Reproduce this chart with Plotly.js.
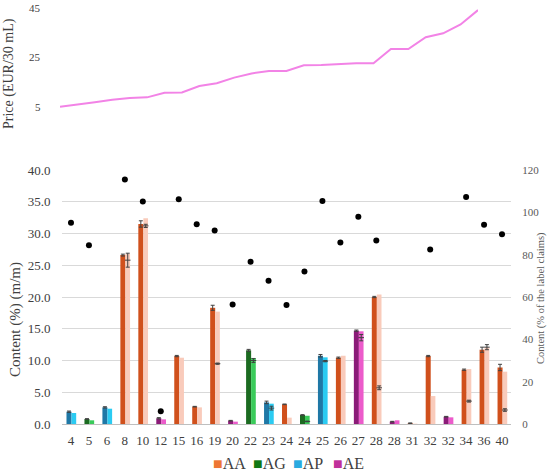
<!DOCTYPE html>
<html>
<head>
<meta charset="utf-8">
<script src="https://cdn.plot.ly/plotly-3.0.1.min.js"></script>
<style>html,body{margin:0;padding:0;background:#fff}#chart{width:550px;height:474px}</style>
</head>
<body>
<div id="chart"></div>
<script>
// ---- data ----
var labels = ['4','5','6','8','10','12','15','16','19','20','22','23','24','24','25','26','27','28','28','31','32','32','34','36','40'];
var types  = ['AP','AG','AP','AA','AA','AE','AA','AA','AA','AE','AG','AP','AA','AG','AP','AA','AE','AA','AE','AA','AA','AE','AA','AA','AA'];
var price  = [5.0,5.8,6.8,7.8,8.5,8.8,10.7,10.8,13.4,14.5,16.8,18.5,19.5,19.5,21.8,21.9,22.4,22.6,22.6,28.4,28.4,33.2,34.8,38.4,44.2];
var darkVal = [1.94,0.79,2.62,26.6,31.5,0.9,10.7,2.73,18.3,0.52,11.6,3.4,3.1,1.42,10.75,10.44,14.7,20.0,0.37,0.12,10.7,1.15,8.55,11.7,8.9];
var darkErr = [0.1,0.05,0.1,0.15,0.5,0.1,0.1,0.05,0.4,0.05,0.15,0.2,0.05,0.05,0.2,0.1,0.1,0.1,0.05,0.05,0.1,0.05,0.1,0.4,0.5];
var lightVal = [1.73,0.58,2.41,26.8,32.4,0.73,10.44,2.62,17.7,0.37,10.4,3.2,1.0,1.3,10.5,10.75,14.6,20.4,0.58,0.05,4.4,1.05,8.65,12.1,8.24];
var innerVal = [null,null,null,25.8,31.2,null,null,null,9.5,null,10.0,2.5,null,0.4,9.9,null,13.6,5.7,null,null,null,null,3.6,12.1,2.2];
var innerErr = [0,0,0,1.1,0.25,0,0,0,0.1,0,0.3,0.3,0,0.05,0.1,0,0.5,0.3,0,0,0,0,0.15,0.4,0.2];
var claimPct = [95.1,84.4,null,115.5,105.1,6.0,106.2,94.4,91.4,56.5,76.7,67.7,56.2,72.1,105.3,85.8,97.9,86.7,null,null,82.5,null,107.2,94.1,89.7];
var typeNames = ['AA','AG','AP','AE'];
var priceTicks = [5, 25, 45];

// ---- styles ----
var darkColors  = {AA:'#D0501C', AG:'#1C6B21', AP:'#1F78A6', AE:'#8B1B78'};
var lightColors = {AA:'#F9CBBB', AG:'#3ACB5A', AP:'#2BCBF2', AE:'#EC5BCB'};
var legendColors = {AA:'#EE7733', AG:'#127812', AP:'#2AAAE0', AE:'#C0309A'};
var FONT = 'Liberation Serif';
var W = 550, H = 474;
function px(x){return x/W;}
function py(y){return (H-y)/H;}

var idx = labels.map(function(_, i){return i;});
var DARK_OFF = -0.25, DARK_W = 0.28, LIGHT_OFF = 0.03, LIGHT_W = 0.26;
var LEGEND_TEXT_X = [213, 253, 293, 333];

var traces = [];
typeNames.forEach(function(t){
  var ii = idx.filter(function(i){return types[i] === t;});
  traces.push({
    type:'bar', x: ii, y: ii.map(function(i){return darkVal[i];}),
    offset: DARK_OFF, width: DARK_W, xaxis:'x', yaxis:'y',
    marker:{color: darkColors[t], line:{width:0}},
    error_y:{type:'data', array: ii.map(function(i){return darkErr[i];}), visible:true, color:'#404040', thickness:1, width:2},
    showlegend:false, hoverinfo:'skip'
  });
  traces.push({
    type:'bar', x: ii, y: ii.map(function(i){return lightVal[i];}),
    offset: LIGHT_OFF, width: LIGHT_W, xaxis:'x', yaxis:'y',
    marker:{color: lightColors[t], line:{width:0}},
    showlegend:false, hoverinfo:'skip'
  });
});

var inIdx = idx.filter(function(i){return innerVal[i] !== null;});
traces.push({
  type:'scatter', mode:'markers',
  x: inIdx.map(function(i){return i + LIGHT_OFF + LIGHT_W/2;}),
  y: inIdx.map(function(i){return innerVal[i];}),
  xaxis:'x', yaxis:'y',
  marker:{symbol:'line-ew-open', size:4, color:'#404040', line:{width:1, color:'#404040'}},
  error_y:{type:'data', array: inIdx.map(function(i){return innerErr[i];}), visible:true, color:'#404040', thickness:1, width:2},
  showlegend:false, hoverinfo:'skip'
});

traces.push({
  type:'scatter', mode:'markers', x: idx, y: claimPct,
  xaxis:'x', yaxis:'y3',
  marker:{color:'#000', size:6},
  showlegend:false, hoverinfo:'skip'
});

traces.push({
  type:'scatter', mode:'lines', x: idx, y: price,
  xaxis:'x2', yaxis:'y2',
  line:{color:'#F283E6', width:2},
  showlegend:false, hoverinfo:'skip'
});

// legend entries: one small legend per series type
typeNames.forEach(function(t, k){
  traces.push({
    type:'scatter', mode:'markers', x:[null], y:[null], xaxis:'x', yaxis:'y',
    name: '<span style="color:' + legendColors[t] + '">\u25A0</span>' + t,
    legend: k === 0 ? 'legend' : 'legend' + (k + 1),
    marker:{symbol:'square', size:1, color:'rgba(0,0,0,0)'},
    showlegend:true
  });
});

var layout = {
  width: W, height: H,
  margin:{l:0, r:0, t:0, b:0, pad:0, autoexpand:false},
  paper_bgcolor:'#fff', plot_bgcolor:'rgba(0,0,0,0)',
  barmode:'overlay',
  font:{family: FONT, color:'#404040', size:13},
  xaxis:{
    domain:[px(62), px(511)], range:[-0.5, 24.5], anchor:'y', automargin:false,
    tickmode:'array', tickvals: idx, ticktext: labels,
    showgrid:false, zeroline:false, showline:true, linecolor:'#BFBFBF', linewidth:1,
    ticks:'outside', ticklen:4, tickcolor:'rgba(0,0,0,0)',
    tickfont:{size:13, color:'#404040'}
  },
  yaxis:{
    domain:[py(424), py(170)], range:[0, 40], dtick:5, tickformat:'.1f', automargin:false,
    showgrid:true, gridcolor:'#D9D9D9', gridwidth:1, zeroline:false, showline:false,
    ticks:'outside', ticklen:8, tickcolor:'rgba(0,0,0,0)',
    tickfont:{size:13, color:'#404040'}
  },
  yaxis3:{
    overlaying:'y', side:'right', anchor:'x', range:[0, 120], dtick:20, automargin:false,
    showgrid:false, zeroline:false, showline:false,
    ticks:'outside', ticklen:8, tickcolor:'rgba(0,0,0,0)',
    tickfont:{size:11, color:'#595959'}
  },
  xaxis2:{
    domain:[px(60), px(478)], range:[0, 24], anchor:'y2', automargin:false,
    showgrid:false, zeroline:false, showline:false, showticklabels:false, ticks:''
  },
  yaxis2:{
    domain:[py(130), 1], range:[-4.45, 48.3], anchor:'x2', automargin:false,
    showgrid:false, zeroline:false, showline:false, showticklabels:false, ticks:''
  },
  annotations:[
    {text:'Price (EUR/30 mL)', textangle:-90, xref:'paper', yref:'paper', x: px(9), y: py(74),
     xanchor:'center', yanchor:'middle', showarrow:false, font:{size:14, color:'#404040'}},
    {text:'Content (%) (m/m)', textangle:-90, xref:'paper', yref:'paper', x: px(15), y: py(320),
     xanchor:'center', yanchor:'middle', showarrow:false, font:{size:15, color:'#404040'}},
    {text:'Content (% of the label claims)', textangle:-90, xref:'paper', yref:'paper', x: px(541), y: py(298),
     xanchor:'center', yanchor:'middle', showarrow:false, font:{size:10.5, color:'#595959'}}
  ]
};

// price axis tick labels placed through the y2 axis scale
priceTicks.forEach(function(v){
  layout.annotations.push({text: String(v), xref:'paper', yref:'y2', x: px(43), y: v,
    xanchor:'right', yanchor:'middle', showarrow:false, font:{size:11, color:'#404040'}});
});

// legends
typeNames.forEach(function(t, k){
  var key = k === 0 ? 'legend' : 'legend' + (k + 1);
  layout[key] = {
    orientation:'h', x: px(LEGEND_TEXT_X[k] - 40), xanchor:'left', y: py(463), yanchor:'middle',
    font:{size:16, color:'#404040'}, itemwidth:30, bgcolor:'rgba(0,0,0,0)', borderwidth:0
  };
});

Plotly.newPlot('chart', traces, layout, {displayModeBar:false, staticPlot:true});
</script>
</body>
</html>
